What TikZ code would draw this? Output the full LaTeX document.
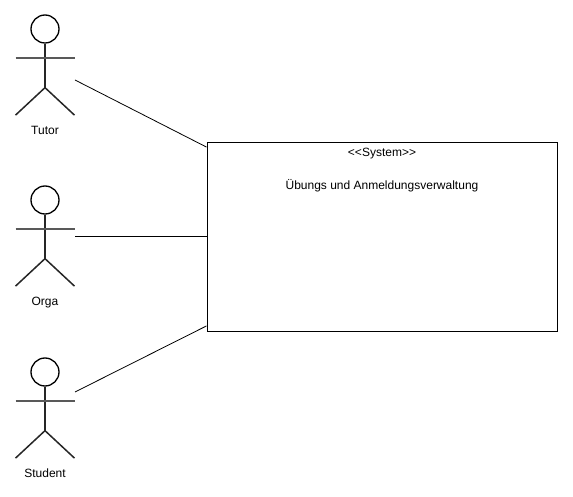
\documentclass[tikz,border=0pt]{standalone}
\usepackage{fontspec}
\setmainfont{Liberation Sans}
\usetikzlibrary{positioning}
\tikzstyle{head} = [circle, draw, line width=1.3pt, inner sep=0pt, minimum size=28pt]
\tikzstyle{limb} = [line width=1.5pt, color=black!85]
\tikzstyle{arm} = [line width=2pt, color=black!65]
\tikzstyle{caption} = [font=\fontsize{12}{14}\selectfont, inner sep=0pt, text height=9pt, text depth=3pt]
\tikzstyle{sysbox} = [rectangle, draw, line width=0.9pt, minimum width=350pt, minimum height=189pt, inner sep=0pt]
\tikzstyle{assoc} = [line width=0.8pt]

\begin{document}
\begin{tikzpicture}[x=1pt,y=1pt]
  \useasboundingbox (0,0) rectangle (573,-497);
  % actors
  \foreach \name/\txt/\y in {tutor/Tutor/-29, orga/Orga/-200, student/Student/-372}{
    \draw (45, \y)node[head](\name head){};
    \coordinate[below=14pt of \name head.south](\name neck);
    \coordinate[below=44pt of \name head.south](\name hip);
    \coordinate[left=29.5pt of \name neck](\name larm);
    \coordinate[right=29.5pt of \name neck](\name rarm);
    \coordinate[below left=27.5pt and 29.5pt of \name hip](\name lfoot);
    \coordinate[below right=27.5pt and 29.5pt of \name hip](\name rfoot);
    \node[caption, below=16.5pt of \name hip |- \name lfoot, anchor=center](\name){\txt};
    \draw[limb] (\name head.south) -- (\name hip);
    \draw[arm] (\name larm) -- (\name rarm);
    \draw[limb] (\name lfoot) -- (\name hip) -- (\name rfoot);
  }
  % system
  \draw (382.0pt, -236.5pt)node[sysbox](system){};
  \draw (382.0pt, -153.5pt)node[caption](stereo){<{}<System>{}>};
  \draw (382.0pt, -186.5pt)node[caption](title){Übungs und Anmeldungsverwaltung};
  % associations
  \coordinate (tutorend) at (75, -80);
  \coordinate (orgaend) at (75, -236.5);
  \coordinate (studentend) at (75, -392);
  \path[assoc] (tutorend) edge (system.153);
  \path[assoc] (orgaend) edge (system.west);
  \path[assoc] (studentend) edge (system.207);
\end{tikzpicture}
\end{document}
